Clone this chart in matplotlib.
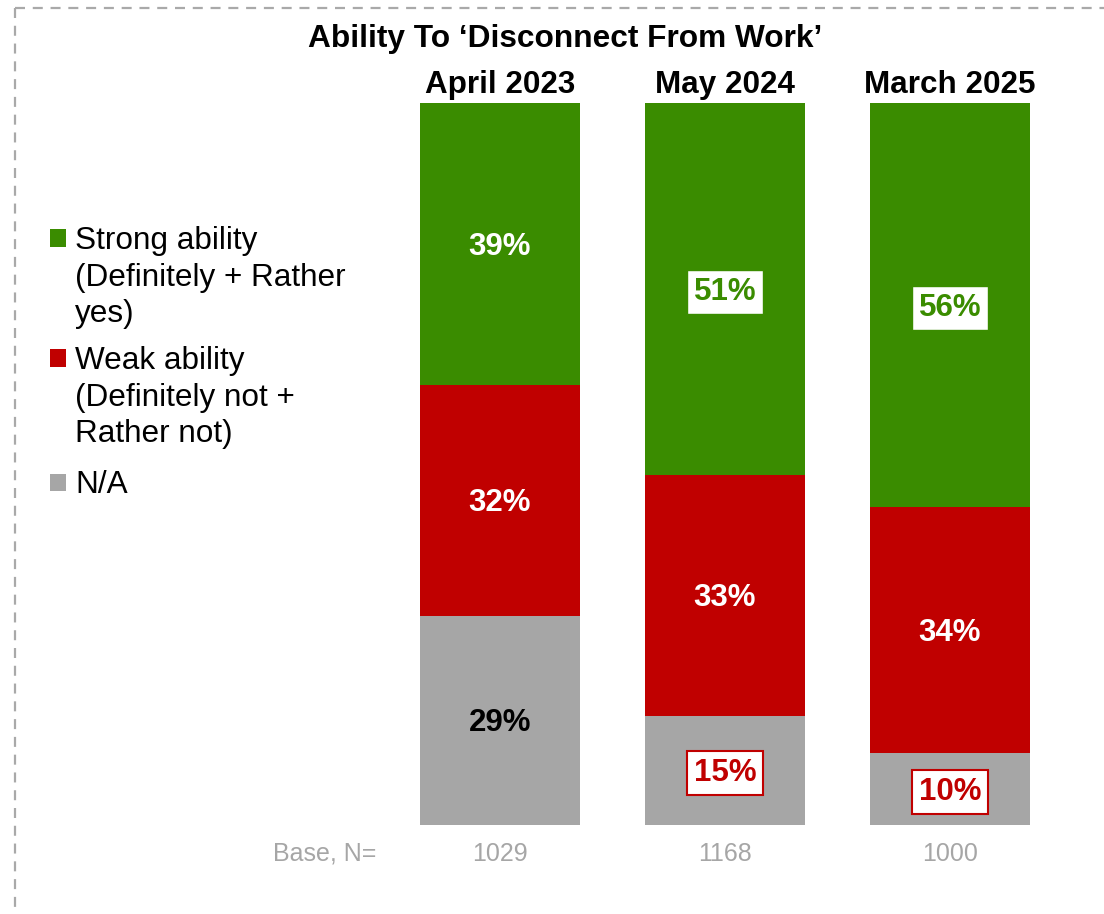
import matplotlib
matplotlib.use("Agg")
import matplotlib.pyplot as plt
from matplotlib.lines import Line2D
import numpy as np

plt.rcParams['font.family'] = ['Liberation Sans', 'DejaVu Sans']

# Survey waves and shares (percent of respondents)
waves = ["April 2023", "May 2024", "March 2025"]
base_n = [1029, 1168, 1000]
strong = [39, 51, 56]
weak = [32, 33, 34]
na = [29, 15, 10]

series_names = ["Strong ability\n(Definitely + Rather\nyes)",
                "Weak ability\n(Definitely not +\nRather not)",
                "N/A"]
colors = ["#3a8c00", "#c00000", "#a6a6a6"]
red = "#c00000"

# Label styling per segment and wave: (kind, colour)
label_style = {
    0: [("plain", "white"), ("box", colors[0]), ("box", colors[0])],
    1: [("plain", "white"), ("plain", "white"), ("plain", "white")],
    2: [("plain", "black"), ("box", red), ("box", red)],
}

W, H, DPI = 1104, 914, 100
fig = plt.figure(figsize=(W / DPI, H / DPI), dpi=DPI)

ax = fig.add_axes([420 / W, (H - 825) / H, 610 / W, 722 / H])
x = np.arange(len(waves))
bar_w = 160 / 225

data = np.array([strong, weak, na], dtype=float)
totals = data.sum(axis=0)
shares = data / totals * 100  # stacked to 100%

# stack from the bottom: N/A, Weak, Strong
bottom = np.zeros(len(waves))
segments = {}
for idx in [2, 1, 0]:
    ax.bar(x, shares[idx], width=bar_w, bottom=bottom, color=colors[idx],
           edgecolor="none", linewidth=0)
    segments[idx] = (bottom.copy(), shares[idx].copy())
    bottom = bottom + shares[idx]

ax.set_xlim(-bar_w / 2, len(waves) - 1 + bar_w / 2)
ax.set_ylim(0, 100)
ax.axis("off")

fs_lab = 22.5
for idx in range(3):
    b, h = segments[idx]
    for i in range(len(waves)):
        kind, col = label_style[idx][i]
        txt = f"{int(data[idx, i])}%"
        yc = b[i] + h[i] / 2
        kw = dict(xy=(x[i], yc), xytext=(0, -3), textcoords="offset pixels",
                  ha="center", va="center", fontsize=fs_lab, fontweight="bold",
                  color=col)
        if kind == "box":
            kw["bbox"] = dict(boxstyle="square,pad=0.22", facecolor="white",
                              edgecolor=col, linewidth=1.5 if idx == 2 else 1.0)
        ax.annotate(txt, **kw)

# Column headers
for i, w in enumerate(waves):
    ax.annotate(w, xy=(x[i], 100), xytext=(0, 18), textcoords="offset pixels",
                ha="center", va="center", fontsize=22.6, fontweight="bold",
                color="black", annotation_clip=False)

# Base row
for i, n in enumerate(base_n):
    ax.annotate(str(n), xy=(x[i], 0), xytext=(0, -29), textcoords="offset pixels",
                ha="center", va="center", fontsize=18, color="#a6a6a6",
                annotation_clip=False)
fig.text(325 / W, 1 - 854 / H, "Base, N=", ha="center", va="center", fontsize=18,
         color="#a6a6a6")

# Title
fig.text(565 / W, 1 - 39 / H, "Ability To \u2018Disconnect From Work\u2019",
         ha="center", va="center", fontsize=22.8, fontweight="bold", color="black")

# Legend
leg_y = [238, 358, 482]
for k, name in enumerate(series_names):
    yk = 1 - leg_y[k] / H
    fig.patches.append(plt.Rectangle((50 / W, yk - 8.5 / H), 16 / W, 17 / H,
                                     transform=fig.transFigure, facecolor=colors[k],
                                     edgecolor="none"))
    fig.text(75 / W, 1 - (leg_y[k] - 12) / H, name, ha="left", va="top",
             fontsize=22.7, color="black", linespacing=1.29)

# Dashed frame on the top and left edges
frame_kw = dict(color="#a9a9a9", linewidth=1.6, linestyle=(0, (4.5, 3.5)),
                transform=fig.transFigure)
fig.add_artist(Line2D([15 / W, 1.0], [1 - 8 / H, 1 - 8 / H], **frame_kw))
fig.add_artist(Line2D([15 / W, 15 / W], [1 - 8 / H, 0.0], **frame_kw))

fig.savefig("out.png", dpi=DPI)
